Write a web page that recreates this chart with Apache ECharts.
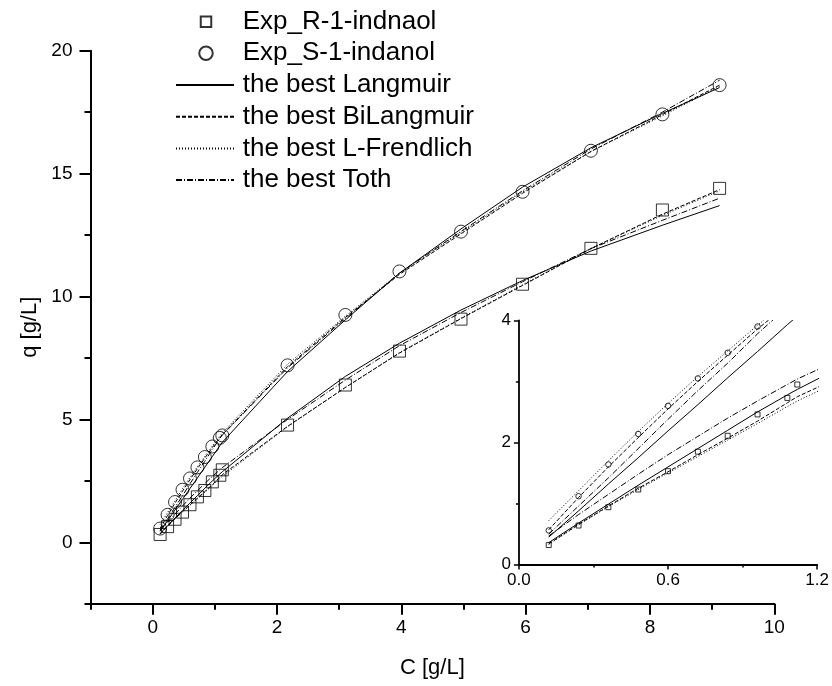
<!DOCTYPE html>
<html>
<head>
<meta charset="utf-8">
<script src="https://cdn.jsdelivr.net/npm/echarts@6/dist/echarts.min.js"></script>
<style>
  html, body { margin: 0; padding: 0; background: #fff; }
  #chart { width: 832px; height: 686px; }
</style>
</head>
<body>
<div id="chart"></div>
<script>
// Concentration in the liquid phase, C [g/L]
const concR = [0.12, 0.24, 0.36, 0.48, 0.60, 0.72, 0.84, 0.96, 1.08, 1.12, 2.17, 3.10, 3.97, 4.96, 5.95, 7.05, 8.20, 9.12];
const concS = [0.12, 0.24, 0.36, 0.48, 0.60, 0.72, 0.84, 0.96, 1.08, 1.12, 2.17, 3.10, 3.97, 4.96, 5.95, 7.05, 8.20, 9.12];

// Measured loadings q [g/L]
const expR = [0.32, 0.64, 0.94, 1.23, 1.53, 1.85, 2.11, 2.46, 2.73, 2.95, 4.77, 6.40, 7.78, 9.08, 10.50, 11.96, 13.52, 14.40];
const expS = [0.56, 1.12, 1.64, 2.14, 2.60, 3.05, 3.47, 3.90, 4.25, 4.35, 7.20, 9.25, 11.02, 12.64, 14.26, 15.93, 17.41, 18.60];

// Best-fit isotherms evaluated at the measured concentrations
const langmuirR   = [0.36, 0.68, 0.99, 1.30, 1.60, 1.90, 2.20, 2.50, 2.78, 2.87, 5.05, 6.75, 8.10, 9.45, 10.65, 11.85, 12.90, 13.70];
const biLangR     = [0.34, 0.66, 0.96, 1.25, 1.52, 1.80, 2.07, 2.35, 2.65, 2.75, 4.72, 6.30, 7.70, 9.10, 10.45, 11.95, 13.35, 14.35];
const lFrendR     = [0.33, 0.65, 0.95, 1.23, 1.50, 1.77, 2.04, 2.31, 2.59, 2.68, 4.70, 6.30, 7.72, 9.12, 10.48, 11.95, 13.30, 14.30];
const tothR       = [0.47, 0.82, 1.15, 1.48, 1.80, 2.10, 2.40, 2.68, 2.95, 3.04, 5.00, 6.60, 8.00, 9.35, 10.60, 11.95, 13.10, 14.00];

const langmuirS   = [0.45, 0.88, 1.32, 1.75, 2.19, 2.62, 3.06, 3.49, 3.93, 4.07, 6.95, 9.05, 10.95, 12.75, 14.45, 16.05, 17.45, 18.50];
const biLangS     = [0.57, 1.10, 1.60, 2.08, 2.55, 3.00, 3.43, 3.86, 4.25, 4.38, 7.15, 9.15, 10.90, 12.55, 14.20, 15.90, 17.40, 18.60];
const lFrendS     = [0.72, 1.21, 1.70, 2.18, 2.64, 3.08, 3.50, 3.92, 4.32, 4.45, 7.25, 9.20, 10.95, 12.60, 14.25, 15.90, 17.35, 18.55];
const tothS       = [0.50, 0.96, 1.42, 1.90, 2.38, 2.85, 3.30, 3.78, 4.22, 4.36, 7.10, 9.10, 10.95, 12.65, 14.30, 16.00, 17.50, 18.80];

// Tick positions
const mainXMajor = [0, 2, 4, 6, 8, 10];
const mainXMinor = [-1, 1, 3, 5, 7, 9];
const mainYMajor = [0, 5, 10, 15, 20];
const mainYMinor = [-2.5, 2.5, 7.5, 12.5, 17.5];
const insetXMajor = [0, 0.6, 1.2];
const insetXMinor = [0.3, 0.9];
const insetYMajor = [0, 2, 4];
const insetYMinor = [1, 3];

const seriesNames = {
  expR: 'Exp_R-1-indnaol',
  expS: 'Exp_S-1-indanol',
  lang: 'the best Langmuir',
  bilang: 'the best BiLangmuir',
  lfrend: 'the best L-Frendlich',
  toth: 'the best Toth'
};

const FONT = 'Liberation Sans, Arial, Helvetica, sans-serif';
const zip = (xs, ys) => xs.map((x, i) => [x, ys[i]]);

const lineDefs = [
  { name: seriesNames.lang,   type: 'solid',      r: langmuirR, s: langmuirS },
  { name: seriesNames.bilang, type: [4, 2],       r: biLangR,   s: biLangS },
  { name: seriesNames.lfrend, type: [1, 2],       r: lFrendR,   s: lFrendS },
  { name: seriesNames.toth,   type: [6, 2, 1, 2], r: tothR,     s: tothS }
];

function buildSeries(xi, yi, sq, circ) {
  const out = [];
  out.push({
    name: seriesNames.expR, type: 'scatter', xAxisIndex: xi, yAxisIndex: yi,
    symbol: 'rect', symbolSize: sq, clip: true, z: 3,
    itemStyle: { color: 'transparent', borderColor: '#000', borderWidth: 1 },
    data: zip(concR, expR)
  });
  out.push({
    name: seriesNames.expS, type: 'scatter', xAxisIndex: xi, yAxisIndex: yi,
    symbol: 'circle', symbolSize: circ, clip: true, z: 3,
    itemStyle: { color: 'transparent', borderColor: '#000', borderWidth: 1 },
    data: zip(concS, expS)
  });
  lineDefs.forEach(d => {
    [[concR, d.r], [concS, d.s]].forEach(([xs, ys]) => {
      out.push({
        name: d.name, type: 'line', xAxisIndex: xi, yAxisIndex: yi,
        symbol: 'none', clip: true, silent: true, z: 4,
        itemStyle: { color: 'transparent', borderWidth: 0 },
        lineStyle: { color: '#000', width: 1, type: d.type },
        data: zip(xs, ys)
      });
    });
  });
  return out;
}

// Every axis sits on the left / bottom edge of its grid
const axisBase = (min, max, width, position) => ({
  type: 'value', min: min, max: max, position: position, offset: 0,
  splitLine: { show: false },
  axisLine: { show: true, onZero: false, lineStyle: { color: '#000', width: width } }
});
const hiddenLine = { show: false, onZero: false };

const chart = echarts.init(document.getElementById('chart'), null, { renderer: 'canvas' });

const mainGrid = { left: 90.5, top: 50.7, width: 683.8, height: 553.1 };
const insetGrid = { left: 518.9, top: 320.4, width: 303, height: 244.2 };

const legendText = { fontFamily: FONT, fontSize: 26, lineHeight: 26, color: '#000' };

chart.setOption({
  animation: false,
  backgroundColor: '#fff',
  grid: [
    Object.assign({}, mainGrid, { show: false }),
    Object.assign({}, insetGrid, { show: false })
  ],
  xAxis: [
    Object.assign(axisBase(-1, 10, 2, 'bottom'), {
      gridIndex: 0,
      name: 'C [g/L]', nameLocation: 'middle', nameGap: 53,
      nameTextStyle: { fontFamily: FONT, fontSize: 22, color: '#000' },
      axisTick: { show: true, inside: false, length: 11, customValues: mainXMajor, lineStyle: { color: '#000', width: 2 } },
      axisLabel: { show: true, customValues: mainXMajor, margin: 14, fontFamily: FONT, fontSize: 19, color: '#000', formatter: v => String(v) }
    }),
    Object.assign(axisBase(-1, 10, 2, 'bottom'), {
      gridIndex: 0,
      axisLine: hiddenLine,
      axisTick: { show: true, length: 6, customValues: mainXMinor, lineStyle: { color: '#000', width: 2 } },
      axisLabel: { show: false }
    }),
    Object.assign(axisBase(0, 1.2, 1.8, 'bottom'), {
      gridIndex: 1,
      axisTick: { show: true, length: 5, customValues: insetXMajor, lineStyle: { color: '#000', width: 1.5 } },
      axisLabel: { show: true, customValues: insetXMajor, margin: 7, fontFamily: FONT, fontSize: 17, color: '#000', formatter: v => v.toFixed(1) }
    }),
    Object.assign(axisBase(0, 1.2, 1.8, 'bottom'), {
      gridIndex: 1,
      axisLine: hiddenLine,
      axisTick: { show: true, length: 3, customValues: insetXMinor, lineStyle: { color: '#000', width: 1.5 } },
      axisLabel: { show: false }
    })
  ],
  yAxis: [
    Object.assign(axisBase(-2.5, 20, 2, 'left'), {
      gridIndex: 0,
      name: 'q [g/L]', nameLocation: 'middle', nameGap: 46, nameRotate: 90,
      nameTextStyle: { fontFamily: FONT, fontSize: 22, color: '#000' },
      axisTick: { show: true, inside: false, length: 11, customValues: mainYMajor, lineStyle: { color: '#000', width: 2 } },
      axisLabel: { show: true, customValues: mainYMajor, margin: 18, fontFamily: FONT, fontSize: 19, color: '#000', formatter: v => String(v) }
    }),
    Object.assign(axisBase(-2.5, 20, 2, 'left'), {
      gridIndex: 0,
      axisLine: hiddenLine,
      axisTick: { show: true, length: 6, customValues: mainYMinor, lineStyle: { color: '#000', width: 2 } },
      axisLabel: { show: false }
    }),
    Object.assign(axisBase(0, 4, 1.8, 'left'), {
      gridIndex: 1,
      axisTick: { show: true, length: 5, customValues: insetYMajor, lineStyle: { color: '#000', width: 1.5 } },
      axisLabel: { show: true, customValues: insetYMajor, margin: 8, fontFamily: FONT, fontSize: 17, color: '#000', formatter: v => String(v) }
    }),
    Object.assign(axisBase(0, 4, 1.8, 'left'), {
      gridIndex: 1,
      axisLine: hiddenLine,
      axisTick: { show: true, length: 3, customValues: insetYMinor, lineStyle: { color: '#000', width: 1.5 } },
      axisLabel: { show: false }
    })
  ],
  legend: [
    {
      data: [seriesNames.expR], orient: 'vertical', left: 199.75, top: 8.7, padding: 0,
      itemWidth: 10.5, itemHeight: 10.5, icon: 'rect', selectedMode: false,
      textStyle: Object.assign({ padding: [0, 0, 0, 26.45] }, legendText)
    },
    {
      data: [seriesNames.expS], orient: 'vertical', left: 198.25, top: 40.3, padding: 0,
      itemWidth: 13.5, itemHeight: 13.5, icon: 'circle', selectedMode: false,
      textStyle: Object.assign({ padding: [0, 0, 0, 24.95] }, legendText)
    },
    {
      data: [seriesNames.lang, seriesNames.bilang, seriesNames.lfrend, seriesNames.toth],
      orient: 'vertical', left: 175, top: 72, itemGap: 5.7, padding: 0,
      itemWidth: 58, itemHeight: 14, selectedMode: false,
      itemStyle: { color: 'transparent', borderWidth: 0 },
      textStyle: Object.assign({ padding: [0, 0, 0, 3.7] }, legendText)
    }
  ],
  series: [].concat(buildSeries(0, 0, 12, 13), buildSeries(2, 2, 5, 5.5))
});
</script>
</body>
</html>
